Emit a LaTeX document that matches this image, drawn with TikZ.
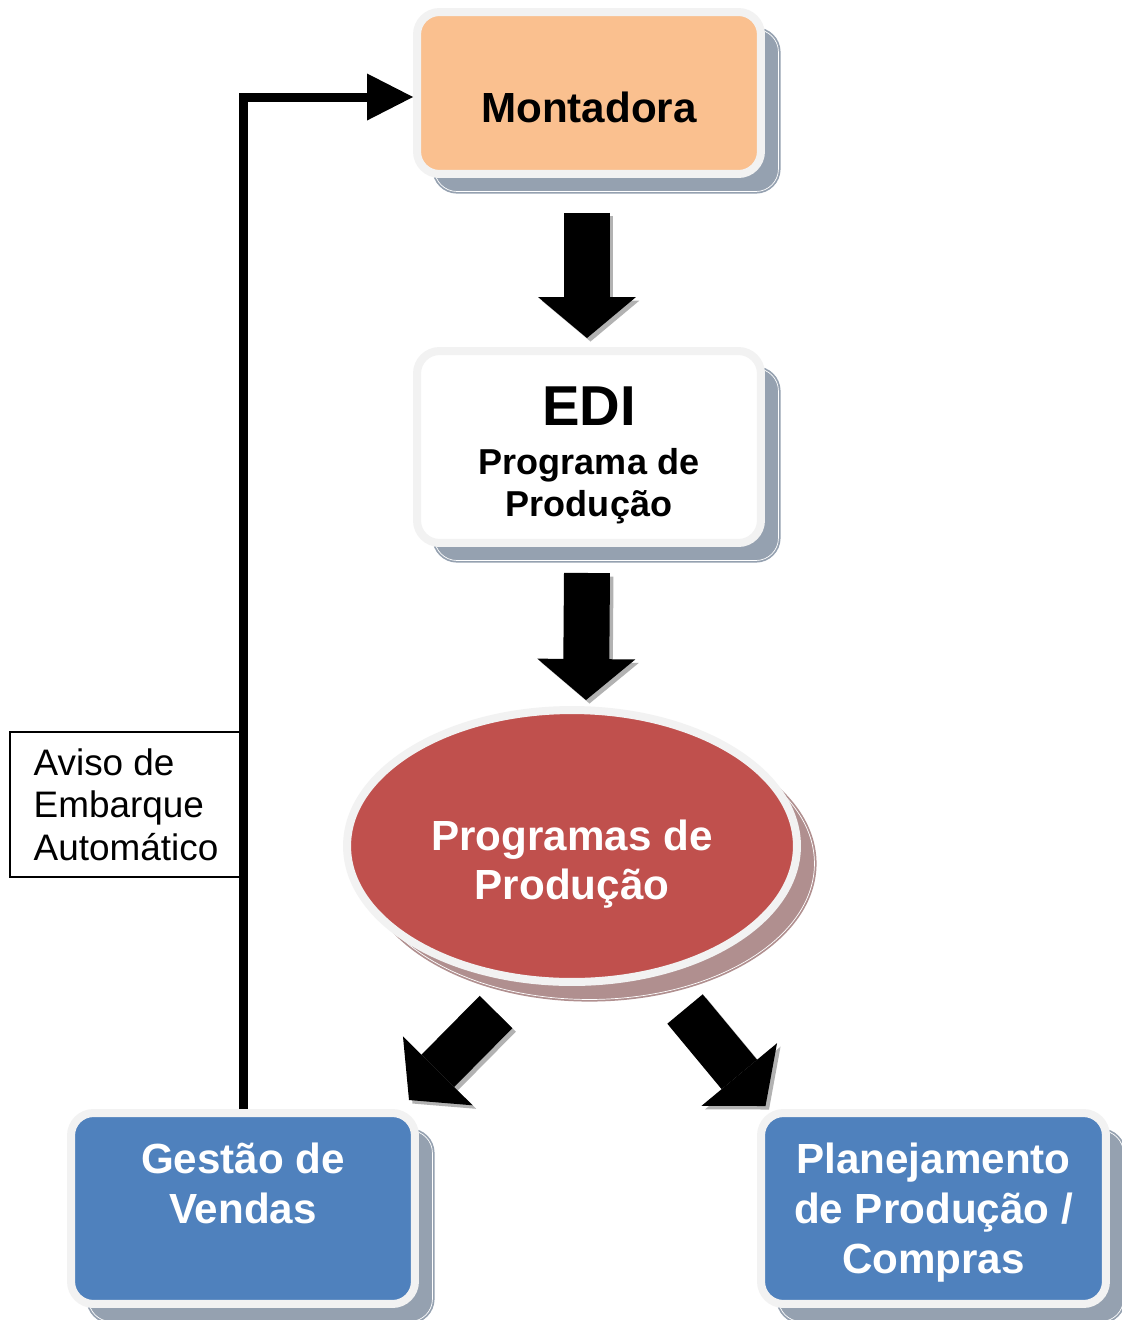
\documentclass[tikz,border=0pt]{standalone}
\usepackage{fontspec}
\setmainfont{Liberation Sans}
\usetikzlibrary{shapes.geometric, arrows.meta, shadows}

\definecolor{boxborder}{RGB}{242,242,242}
\definecolor{boxshadow}{RGB}{149,161,176}
\definecolor{montorange}{RGB}{250,192,143}
\definecolor{progred}{RGB}{192,80,77}
\definecolor{redshadow}{RGB}{176,143,143}
\definecolor{vendblue}{RGB}{79,129,189}
\definecolor{arrowshadow}{RGB}{178,178,178}

\tikzset{
  stepbox/.style={draw=boxborder, line width=0.16cm, rounded corners=0.45cm, minimum width=6.88cm, align=center,
    font=\fontsize{24}{28.4}\selectfont\bfseries,
    drop shadow={shadow xshift=0.35cm, shadow yshift=-0.35cm, fill=boxshadow, draw=boxshadow, line width=1pt, double=white, double distance=0.4pt, opacity=1}},
  blockarrow/.style={line width=0.92cm, -{Triangle[width=1.96cm, length=0.82cm, line width=0pt]}},
  blockshadow/.style={blockarrow, color=arrowshadow, transform canvas={shift={(0.07cm,-0.07cm)}}},
  fbline/.style={line width=0.18cm, -{Triangle[width=0.94cm, length=0.92cm, line width=0pt]}}
}

\begin{document}
\begin{tikzpicture}[x=0.02cm, y=-0.02cm]
  \path[use as bounding box, fill=white] (0,0) rectangle (1122,1320);

  % Top boxes
  \node[stepbox, fill=montorange, minimum height=3.24cm, text height=1.16cm, text depth=0pt] (mont) at (589,93) {Montadora};
  \node[stepbox, fill=white, minimum height=3.84cm, font=\fontsize{20.5}{24}\selectfont\bfseries, text height=2.8cm, text depth=0pt] (edi) at (589,447) {{\fontsize{32}{32}\selectfont EDI}\\[4pt]Programa de\\Produção};

  % Ellipse
  \node[ellipse, draw=boxborder, line width=0.16cm, fill=progred, minimum width=9cm, minimum height=5.44cm, inner sep=2pt,
    text=white, align=center, font=\fontsize{24}{27.8}\selectfont\bfseries, text height=2.12cm, text depth=0pt,
    drop shadow={shadow xshift=0.35cm, shadow yshift=-0.35cm, fill=redshadow, draw=redshadow, line width=1pt, double=white, double distance=0.4pt, opacity=1}] (pp) at (572,846) {Programas de\\Produção};

  % Bottom boxes
  \node[stepbox, fill=vendblue, text=white, minimum height=3.82cm] (gv) at (243,1208.5) {Gestão de\\Vendas\\\mbox{}};
  \node[stepbox, fill=vendblue, text=white, minimum height=3.82cm, minimum width=6.9cm, text depth=0pt] (pl) at (933.5,1208.5) {Planejamento\\de Produção /\\Compras};

  % Label on the return line
  \node[draw=black, line width=1pt, fill=white, minimum width=4.64cm, minimum height=2.9cm, align=left, font=\fontsize{21}{24.2}\selectfont, text depth=0pt] (aviso) at (126,804.5) {Aviso de\\Embarque\\Automático};

  % Block arrows
  \foreach \st in {blockshadow, blockarrow} {
    \draw[\st] ([shift={(-2,35)}]mont.south) -- ([shift={(-2,-9)}]edi.north);
    \draw[\st] ([shift={(-2,26)}]edi.south) -- ([shift={(14,-6)}]pp.north);
    \draw[\st] ([shift={(-76,166)}]pp.center) -- ([shift={(166,-9)}]gv.north);
    \draw[\st] ([shift={(113,163)}]pp.center) -- ([shift={(-168,-3)}]pl.north);
  }

  % Return line
  \draw[fbline] (gv.north) |- ([shift={(0,4)}]mont.west);
\end{tikzpicture}
\end{document}
